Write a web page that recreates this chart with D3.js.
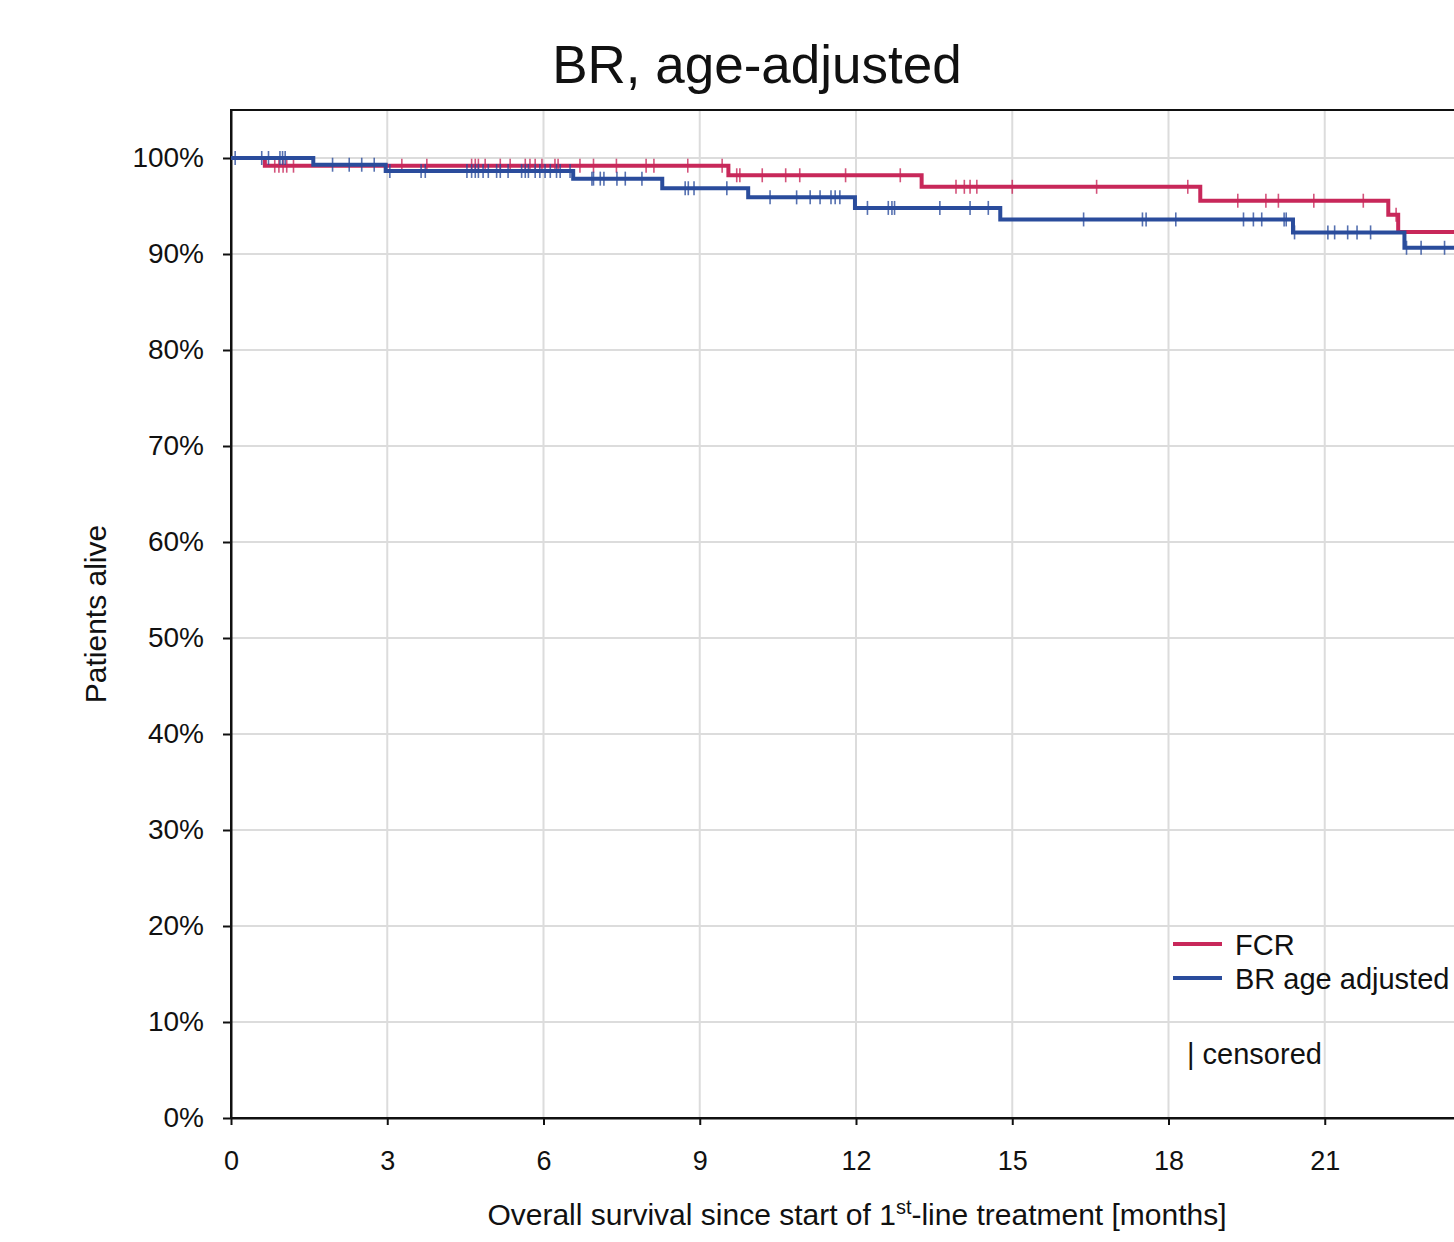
<!doctype html>
<html>
<head>
<meta charset="UTF-8">
<script src="https://cdnjs.cloudflare.com/ajax/libs/d3/7.8.5/d3.min.js"></script>
<style>
  body { margin: 0; background: #fff; }
  svg { display: block; font-family: "Liberation Sans", Arial, sans-serif; }
</style>
</head>
<body>
<div id="graphic"></div>
<script>
// months / percent alive
var fcrTimes = [0, 0.65, 9.55, 13.26, 18.61, 22.22, 22.41];
var fcrSurv  = [100, 99.2, 98.2, 97.0, 95.55, 94.1, 92.3];
var fcrCensored = [0.84, 0.92, 1.00, 1.07, 1.20, 3.28, 3.76, 4.62, 4.69, 4.75, 4.88, 5.17,
  5.36, 5.65, 5.74, 5.84, 5.97, 6.22, 6.28, 6.70, 6.96, 7.40, 7.97, 8.12, 8.77, 9.43,
  9.71, 9.77, 10.20, 10.65, 10.92, 11.80, 12.85, 13.92, 14.08, 14.19, 14.32, 15.00,
  16.62, 18.37, 19.33, 19.87, 20.11, 20.79, 21.74, 22.37];

var brTimes = [0, 1.58, 2.97, 6.57, 8.28, 9.93, 11.98, 14.77, 20.39, 22.53];
var brSurv  = [100, 99.3, 98.65, 97.85, 96.85, 95.9, 94.8, 93.6, 92.25, 90.65];
var brCensored = [0.08, 0.59, 0.72, 0.94, 0.99, 1.04, 1.95, 2.27, 2.51, 2.75, 3.05, 3.65,
  3.73, 4.53, 4.62, 4.69, 4.75, 4.84, 4.94, 5.10, 5.17, 5.32, 5.58, 5.65, 5.71, 5.84,
  5.93, 6.03, 6.13, 6.25, 6.32, 6.51, 6.93, 6.96, 7.09, 7.16, 7.41, 7.57, 7.89, 8.72,
  8.78, 8.89, 9.52, 10.35, 10.86, 11.12, 11.31, 11.52, 11.60, 11.69, 12.22, 12.62,
  12.69, 12.74, 13.61, 14.19, 14.54, 16.37, 17.50, 17.57, 18.14, 19.44, 19.63, 19.79,
  20.22, 20.26, 20.42, 21.06, 21.19, 21.44, 21.62, 21.88, 22.57, 22.85, 23.30];

var followUp = 24;
var xTicks = [0, 3, 6, 9, 12, 15, 18, 21];
var yTicks = [0, 10, 20, 30, 40, 50, 60, 70, 80, 90, 100];
var seriesNames = ["FCR", "BR age adjusted"];
var colors = ["#c8285a", "#2a4c9c"];

var margin = {top: 110, left: 231};
var width = 1250, height = 1008;

var svg = d3.select("#graphic").append("svg")
  .attr("width", 1454)
  .attr("height", 1242);

var g = svg.append("g")
  .attr("transform", "translate(" + margin.left + "," + margin.top + ")");

var x = d3.scaleLinear().domain([0, 24]).range([0, width]);
var y = d3.scaleLinear().domain([0, 105]).range([height, 0]);

// grid
g.append("g").selectAll("line").data(xTicks.slice(1).concat([24])).enter().append("line")
  .attr("x1", d => x(d)).attr("x2", d => x(d))
  .attr("y1", 0).attr("y2", height)
  .attr("stroke", "#dcdcdc").attr("stroke-width", 2);
g.append("g").selectAll("line").data(yTicks.slice(1)).enter().append("line")
  .attr("x1", 0).attr("x2", width)
  .attr("y1", d => y(d)).attr("y2", d => y(d))
  .attr("stroke", "#dcdcdc").attr("stroke-width", 2);

// frame
g.append("rect")
  .attr("width", width).attr("height", height)
  .attr("fill", "none").attr("stroke", "#111").attr("stroke-width", 2);

// axes
var xAxis = g.append("g")
  .attr("transform", "translate(0," + height + ")")
  .call(d3.axisBottom(x).tickValues(xTicks).tickSizeInner(7).tickSizeOuter(0).tickPadding(26));
var yAxis = g.append("g")
  .call(d3.axisLeft(y).tickValues(yTicks).tickFormat(d => d + "%").tickSizeInner(8).tickSizeOuter(0).tickPadding(19));
xAxis.selectAll("text").style("font-size", "27px");
yAxis.selectAll("text").style("font-size", "28px");
[xAxis, yAxis].forEach(function(a) {
  a.select(".domain").attr("stroke", "#111").attr("stroke-width", 2);
  a.selectAll(".tick line").attr("stroke", "#111").attr("stroke-width", 2);
  a.selectAll("text").attr("fill", "#111")
    .style("font-family", "Liberation Sans, Arial, sans-serif");
});

var survAt = function(times, surv, t) {
  var i = d3.bisectRight(times, t) - 1;
  return surv[Math.max(i, 0)];
};

var line = d3.line()
  .x(d => x(d[0]))
  .y(d => y(d[1]))
  .curve(d3.curveStepAfter);

var series = [
  {times: fcrTimes, surv: fcrSurv, cens: fcrCensored},
  {times: brTimes, surv: brSurv, cens: brCensored}
];

series.forEach(function(s, k) {
  var pts = s.times.map((t, i) => [t, s.surv[i]]);
  pts.push([followUp, s.surv[s.surv.length - 1]]);
  g.append("g").selectAll("line").data(s.cens).enter().append("line")
    .attr("x1", d => x(d)).attr("x2", d => x(d))
    .attr("y1", d => y(survAt(s.times, s.surv, d)) - 7)
    .attr("y2", d => y(survAt(s.times, s.surv, d)) + 7)
    .attr("stroke", colors[k]).attr("stroke-width", 1.6).attr("stroke-opacity", 0.8);
  g.append("path")
    .datum(pts)
    .attr("d", line)
    .attr("fill", "none")
    .attr("stroke", colors[k])
    .attr("stroke-width", 4);
});

// title and axis labels
svg.append("text")
  .attr("x", 757).attr("y", 83)
  .attr("text-anchor", "middle")
  .style("font-size", "53px").attr("fill", "#111")
  .text("BR, age-adjusted");

var xl = svg.append("text")
  .attr("x", 857).attr("y", 1225)
  .attr("text-anchor", "middle")
  .style("font-size", "30px").attr("fill", "#111");
xl.append("tspan").text("Overall survival since start of 1");
xl.append("tspan").attr("dy", -11).style("font-size", "20px").text("st");
xl.append("tspan").attr("dy", 11).text("-line treatment [months]");

svg.append("text")
  .attr("transform", "translate(106,614)rotate(-90)")
  .attr("text-anchor", "middle")
  .style("font-size", "30px").attr("fill", "#111")
  .text("Patients alive");

// legend
var leg = svg.append("g").attr("transform", "translate(1173,944)");
seriesNames.forEach(function(n, i) {
  leg.append("line")
    .attr("x1", 0).attr("x2", 49)
    .attr("y1", i * 34).attr("y2", i * 34)
    .attr("stroke", colors[i]).attr("stroke-width", 4);
  leg.append("text")
    .attr("x", 62).attr("y", i * 34 + 11)
    .style("font-size", "29px").attr("fill", "#111")
    .text(n);
});
leg.append("text")
  .attr("x", 14).attr("y", 120)
  .style("font-size", "29px").attr("fill", "#111")
  .text("| censored");
</script>
</body>
</html>
